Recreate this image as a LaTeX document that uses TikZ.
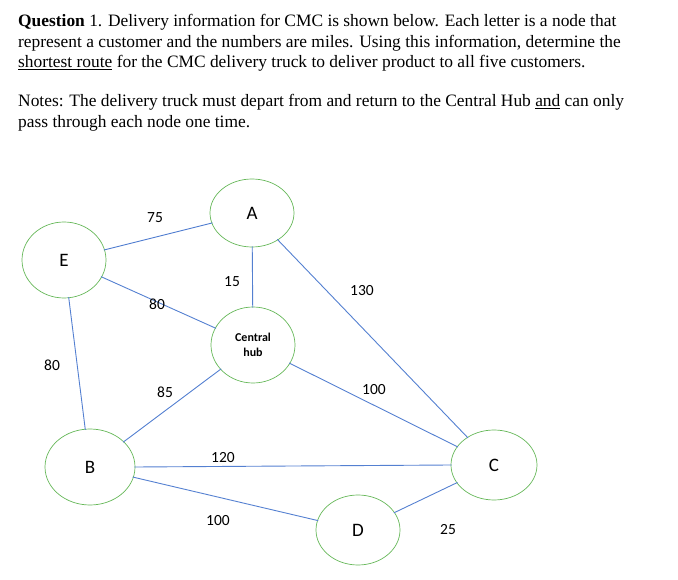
\documentclass[tikz,border=0pt]{standalone}
\usepackage{fontspec}
\setmainfont{Liberation Serif}
\newfontfamily\calfont{Carlito}
\usetikzlibrary{shapes.geometric}
\definecolor{edc}{rgb}{0.33,0.50,0.82}
\definecolor{ndc}{rgb}{0.40,0.72,0.35}
\begin{document}
\begin{tikzpicture}[x=1pt,y=-1pt,
  txt/.style={anchor=base west,inner sep=0,font=\fontsize{17.4}{20}\selectfont},
  nd/.style={ellipse,draw=ndc,fill=white,line width=0.7pt,minimum width=84pt,minimum height=72pt,inner sep=0,font=\calfont\fontsize{19}{22}\selectfont},
  ed/.style={draw=edc,line width=0.9pt,shorten <=-1pt,shorten >=-1pt},
  lb/.style={font=\calfont\fontsize{15.5}{18}\selectfont,inner sep=1pt}]
\useasboundingbox (0,0) rectangle (678,580);
\node[txt] (t1) at (18,27) {\textbf{Question} 1.  Delivery information for CMC is shown below.  Each letter is a node that};
\node[txt] (t2) at (18,48) {represent a customer and the numbers are miles.  Using this information, determine the};
\node[txt] (t3) at (18,68) {\underline{shortest route} for the CMC delivery truck to deliver product to all five customers.};
\node[txt] (t4) at (18,107) {Notes: The delivery truck must depart from and return to the Central Hub \underline{and} can only};
\node[txt] (t5) at (18,128) {pass through each node one time.};
\node[nd,minimum width=84pt,minimum height=68pt] (A) at (252,213) {A};
\node[nd,minimum width=84pt,minimum height=76pt] (E) at (64,260) {E};
\node[nd,minimum width=84pt,minimum height=76pt,font=\calfont\bfseries\fontsize{12}{15}\selectfont,align=center] (H) at (253,345) {Central\\hub};
\node[nd,minimum width=90pt,minimum height=76pt] (B) at (90,467) {B};
\node[nd,minimum width=86pt,minimum height=70pt] (C) at (494,465) {C};
\node[nd,minimum width=84pt,minimum height=70pt] (D) at (358,530) {D};
\draw[ed] (E) -- (A);
\draw[ed] (A) -- (H);
\draw[ed] (A) -- (C);
\draw[ed] (E) -- (H);
\draw[ed] (E) -- (B);
\draw[ed] (H) -- (B);
\draw[ed] (H) -- (C);
\draw[ed] (B.east) -- (C.west);
\draw[ed] (B) -- (D);
\draw[ed] (D) -- (C);
\node[lb] (l1) at (155,218) {75};
\node[lb] (l2) at (232,282) {15};
\node[lb] (l3) at (362,291) {130};
\node[lb] (l4) at (157,304) {80};
\node[lb] (l5) at (52,365) {80};
\node[lb] (l6) at (165,392) {85};
\node[lb] (l7) at (374,390) {100};
\node[lb] (l8) at (223,458) {120};
\node[lb] (l9) at (218,521) {100};
\node[lb] (l10) at (448,530) {25};
\end{tikzpicture}
\end{document}
